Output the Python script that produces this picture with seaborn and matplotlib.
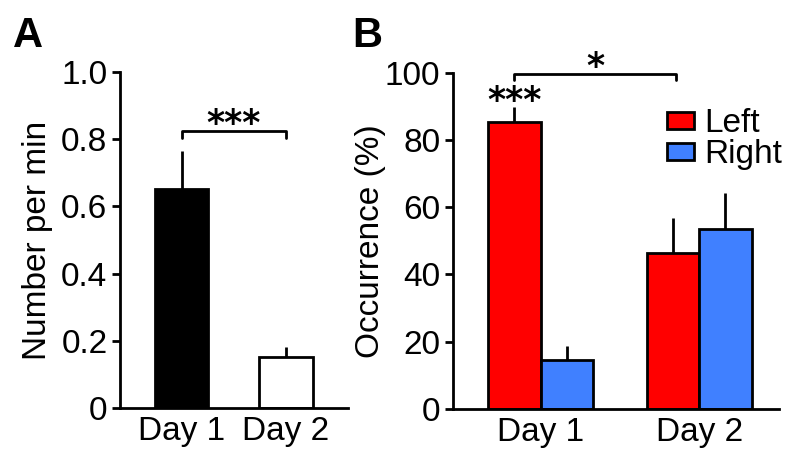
import numpy as np
import pandas as pd
import matplotlib
matplotlib.use("Agg")
import matplotlib.pyplot as plt
import seaborn as sns

# panel A data
days = ["Day 1", "Day 2"]
rate_mean = [0.652, 0.151]
rate_sem = [0.114, 0.030]

# panel B data
sides = ["Left", "Right"]
occ_left = [85.4, 46.3]
occ_right = [14.6, 53.4]
occ_left_sem = [4.3, 10.6]
occ_right_sem = [4.1, 10.9]

sns.set_theme(style="ticks")
plt.rcParams["font.family"] = ["Liberation Sans", "DejaVu Sans"]
plt.rcParams["text.color"] = "black"
plt.rcParams["axes.labelcolor"] = "black"
plt.rcParams["xtick.color"] = "black"
plt.rcParams["ytick.color"] = "black"
plt.rcParams["axes.edgecolor"] = "black"

fs = 24
star_kw = dict(ha="center", va="bottom", fontsize=25, fontweight="bold",
               family="DejaVu Sans")
fig = plt.figure(figsize=(8, 4.66), dpi=100)
axA = fig.add_axes([0.15, 0.1245, 0.285, 0.721])
axB = fig.add_axes([0.566, 0.1223, 0.408, 0.7217])

lw = 2.0

# ---- panel A
dfA = pd.DataFrame({"day": days, "rate": rate_mean})
sns.barplot(data=dfA, x="day", y="rate", ax=axA, width=0.51, saturation=1,
            palette=["black", "white"], hue="day", legend=False,
            edgecolor="black", linewidth=lw)
for p, e in zip(axA.patches, rate_sem):
    xc = p.get_x() + p.get_width() / 2
    axA.errorbar(xc, p.get_height(), yerr=[[0], [e]], fmt="none",
                 ecolor="black", elinewidth=lw, capsize=0, zorder=0)
axA.set_xlim(-0.589, 1.593)
axA.set_ylim(0, 1.0)
axA.set_yticks([0, 0.2, 0.4, 0.6, 0.8, 1.0])
axA.set_yticklabels(["0", "0.2", "0.4", "0.6", "0.8", "1.0"])
axA.set_ylabel("Number per min", fontsize=fs, labelpad=6)
axA.set_xlabel("")
# significance bracket
pa = [p.get_x() + p.get_width() / 2 for p in axA.patches]
axA.plot([pa[0], pa[0], pa[1], pa[1]], [0.805, 0.823, 0.823, 0.805],
         color="black", lw=lw, clip_on=False)
axA.text((pa[0] + pa[1]) / 2, 0.795, "***", **star_kw)

# ---- panel B
dfB = pd.DataFrame({
    "day": days * 2,
    "side": ["Left"] * 2 + ["Right"] * 2,
    "occ": occ_left + occ_right,
})
sns.barplot(data=dfB, x="day", y="occ", hue="side", ax=axB, width=0.663,
            palette={"Left": "#ff0000", "Right": "#4080ff"}, saturation=1,
            edgecolor="black", linewidth=lw, gap=0)
bars = [p for p in axB.patches if p.get_height() > 0]
bars = sorted(bars, key=lambda p: p.get_x())
for p, e in zip(bars, [occ_left_sem[0], occ_right_sem[0], occ_left_sem[1], occ_right_sem[1]]):
    xc = p.get_x() + p.get_width() / 2
    axB.errorbar(xc, p.get_height(), yerr=[[0], [e]], fmt="none",
                 ecolor="black", elinewidth=lw, capsize=0, zorder=0)
axB.set_xlim(-0.554, 1.505)
axB.set_ylim(0, 100)
axB.set_yticks([0, 20, 40, 60, 80, 100])
axB.set_ylabel("Occurrence (%)", fontsize=fs, labelpad=-1)
axB.set_xlabel("")
xl = bars[0].get_x() + bars[0].get_width() / 2
xr = bars[2].get_x() + bars[2].get_width() / 2 + 0.02
axB.plot([xl, xl, xr, xr], [97.8, 99.6, 99.6, 97.8], color="black", lw=lw,
         clip_on=False)
axB.text((xl + xr) / 2, 96.5, "*", **star_kw)
axB.text(xl, 86.6, "***", **star_kw)
leg = axB.legend(loc="upper left", bbox_to_anchor=(0.656, 0.895), frameon=False,
                 fontsize=fs, handlelength=0.8, handleheight=0.4,
                 handletextpad=0.33, labelspacing=0.0, borderaxespad=0,
                 borderpad=0)

for ax in (axA, axB):
    sns.despine(ax=ax)
    ax.spines["left"].set_linewidth(lw)
    ax.spines["bottom"].set_linewidth(lw)
    ax.tick_params(axis="y", direction="out", length=6, width=lw,
                   labelsize=fs, pad=3)
    ax.tick_params(axis="x", length=0, labelsize=fs, pad=6)
    ax.patch.set_alpha(0)

fig.text(0.016, 0.9, "A", fontsize=30, fontweight="bold")
fig.text(0.44, 0.9, "B", fontsize=30, fontweight="bold")

fig.savefig("out.png", dpi=100)
